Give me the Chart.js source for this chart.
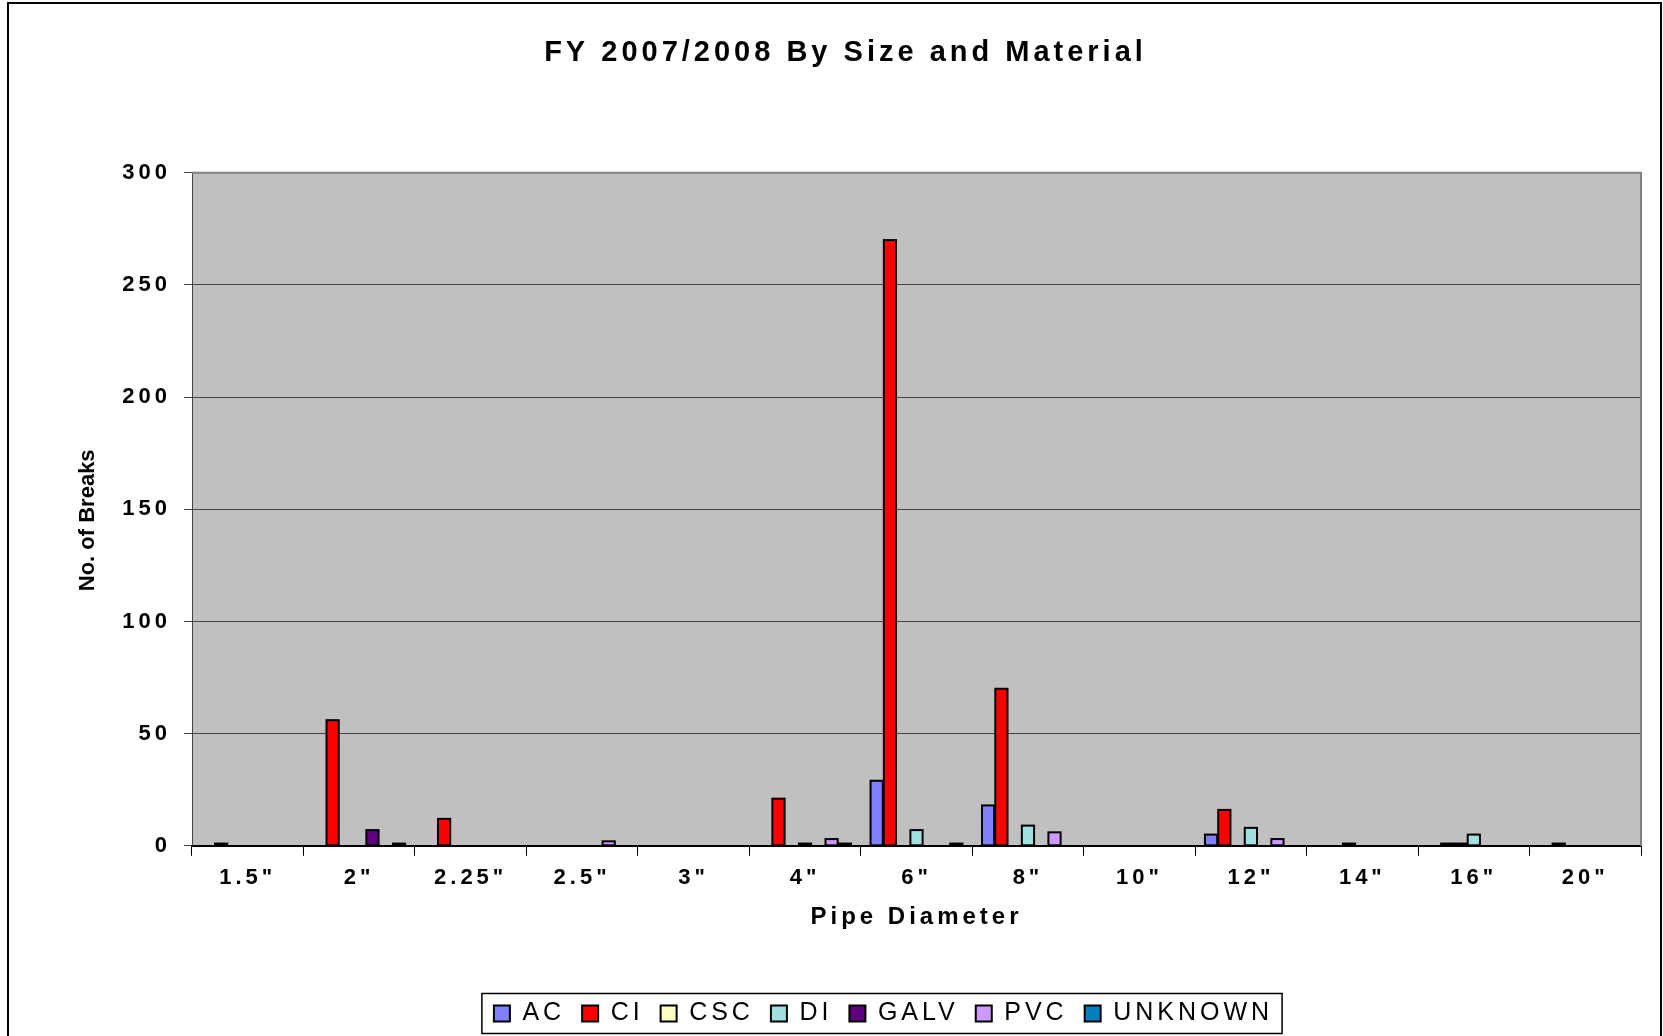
<!DOCTYPE html>
<html>
<head>
<meta charset="utf-8">
<title>FY 2007/2008 By Size and Material</title>
<script src="https://cdn.jsdelivr.net/npm/chart.js@4.4.1/dist/chart.umd.min.js"></script>
<style>
html,body{margin:0;padding:0;background:#fff;}
#wrap{position:relative;width:1663px;height:1036px;overflow:hidden;}
</style>
</head>
<body>
<div id="wrap"><canvas id="chart" width="1663" height="1036"></canvas></div>
<script>
// ------------------ DATA ------------------
const sizes = ['1.5"', '2"', '2.25"', '2.5"', '3"', '4"', '6"', '8"', '10"', '12"', '14"', '16"', '20"'];
const materials = ['AC', 'CI', 'CSC', 'DI', 'GALV', 'PVC', 'UNKNOWN'];
const acBreaks      = [0, 0, 0, 0, 0, 0, 29, 18, 0, 5, 0, 0, 0];
const ciBreaks      = [1, 56, 12, 0, 0, 21, 270, 70, 0, 16, 0, 1, 1];
const cscBreaks     = [0, 0, 0, 0, 0, 0, 0, 0, 0, 0, 1, 1, 0];
const diBreaks      = [0, 0, 0, 0, 0, 1, 7, 9, 0, 8, 0, 5, 0];
const galvBreaks    = [0, 7, 0, 0, 0, 0, 0, 0, 0, 0, 0, 0, 0];
const pvcBreaks     = [0, 0, 0, 2, 0, 3, 0, 6, 0, 3, 0, 0, 0];
const unknownBreaks = [0, 1, 0, 0, 0, 1, 1, 0, 0, 0, 0, 0, 0];
const yTicks = [0, 50, 100, 150, 200, 250, 300];

const colors = ['#8080ff', '#ff0000', '#ffffc0', '#a0e0e0', '#600080', '#cc99ff', '#0080c0'];
const series = [acBreaks, ciBreaks, cscBreaks, diBreaks, galvBreaks, pvcBreaks, unknownBreaks];

// ------------------ LAYOUT TWEAKS ------------------
const SPACING = '4px';
const legendShiftX = -33;
const yTitleShift = 11;

Chart.defaults.font.family = "'Liberation Sans', Arial, sans-serif";
Chart.defaults.color = '#000';

// wide letter spacing, grey plot, outlined bars like the old Excel export
const excelLook = {
    id: 'excelLook',
    beforeUpdate(chart){
        chart.ctx.letterSpacing = SPACING;
    },
    afterLayout(chart){
        const lg = chart.legend;
        lg.left += legendShiftX;
        lg.right += legendShiftX;
    },
    afterUpdate(chart){
        // y axis title is drawn without spacing, a little lower than centre
        const y = chart.scales.y;
        if(!y._plainTitle){
            const draw = y.drawTitle.bind(y);
            y.drawTitle = function(){
                const c = this.ctx;
                c.save();
                c.letterSpacing = '0px';
                c.translate(0, yTitleShift);
                draw();
                c.restore();
            };
            y._plainTitle = true;
        }
    },
    beforeDraw(chart){
        const c = chart.ctx;
        const a = chart.chartArea;
        c.save();
        c.fillStyle = '#fff';
        c.fillRect(0, 0, chart.width, chart.height);
        c.fillStyle = '#c0c0c0';
        c.fillRect(a.left, a.top, a.right - a.left, a.bottom - a.top);
        c.strokeStyle = '#000';
        c.lineWidth = 2;
        c.strokeRect(8, 3, 1653, 1100);
        c.restore();
        c.letterSpacing = SPACING;
    },
    afterDatasetsDraw(chart){
        // black outline centred on the bar edges
        const c = chart.ctx;
        c.save();
        c.strokeStyle = '#000';
        c.lineWidth = 2;
        chart.data.datasets.forEach((ds, i)=>{
            const meta = chart.getDatasetMeta(i);
            meta.data.forEach((bar, j)=>{
                if(!ds.data[j]) return;
                const p = bar.getProps(['x', 'y', 'base', 'width'], true);
                c.strokeRect(p.x - p.width / 2, p.y, p.width, p.base - p.y);
            });
        });
        c.restore();
    },
    afterDraw(chart){
        const c = chart.ctx;
        const a = chart.chartArea;
        c.save();
        c.strokeStyle = '#808080';
        c.lineWidth = 2;
        c.beginPath();
        c.moveTo(a.left, a.top);
        c.lineTo(a.right, a.top);
        c.lineTo(a.right, a.bottom);
        c.stroke();
        // box round the legend
        const hb = chart.legend.legendHitBoxes;
        if(hb && hb.length){
            const x0 = Math.min(...hb.map(h=>h.left)) - 12;
            const x1 = Math.max(...hb.map(h=>h.left + h.width)) + 9;
            const cy = hb[0].top + hb[0].height / 2;
            c.strokeStyle = '#000';
            c.lineWidth = 1.5;
            c.strokeRect(x0, cy - 20, x1 - x0, 40);
        }
        c.restore();
    }
};

// ------------------ CHART ------------------
const datasets = materials.map((m, i)=>({
    label: m,
    data: series[i],
    backgroundColor: colors[i],
    borderWidth: 0,
    barPercentage: 0.92,
    categoryPercentage: 0.834
}));

const chart = new Chart(document.getElementById('chart').getContext('2d'), {
    type: 'bar',
    data: { labels: sizes, datasets },
    options: {
        responsive: false,
        animation: false,
        devicePixelRatio: 1,
        layout: { padding: { left: 50, right: 22, top: 0, bottom: 0 } },
        plugins: {
            title: {
                display: true,
                text: 'FY 2007/2008 By Size and Material',
                font: { size: 29, weight: 'bold' },
                color: '#000',
                padding: { top: 36, bottom: 102 }
            },
            legend: {
                position: 'bottom',
                fullSize: false,
                labels: {
                    font: { size: 25 },
                    color: '#000',
                    boxWidth: 16,
                    boxHeight: 16,
                    padding: 17,
                    generateLabels: chart => Chart.defaults.plugins.legend.labels.generateLabels(chart)
                        .map(l => ({ ...l, strokeStyle: '#000', lineWidth: 2 }))
                }
            },
            tooltip: { enabled: false }
        },
        scales: {
            x: {
                grid: { drawOnChartArea: false, drawTicks: true, tickLength: 10, color: '#000', offset: true },
                border: { color: '#000', width: 2 },
                ticks: { font: { size: 22, weight: 'bold' }, color: '#000', padding: 9, maxRotation: 0, autoSkip: false },
                title: {
                    display: true,
                    text: 'Pipe Diameter',
                    font: { size: 24, weight: 'bold' },
                    color: '#000',
                    padding: { top: 3, bottom: 52 }
                }
            },
            y: {
                min: 0,
                max: 300,
                afterBuildTicks: s => { s.ticks = yTicks.map(v=>({value: v})); },
                afterFit: s => { s.width = 142; },
                grid: { color: '#444', lineWidth: 1, tickLength: 8, drawTicks: true },
                border: { color: '#444', width: 1 },
                ticks: { font: { size: 22, weight: 'bold' }, color: '#000', padding: 13 },
                title: {
                    display: true,
                    text: 'No. of Breaks',
                    font: { size: 22, weight: 'bold' },
                    color: '#000',
                    padding: { top: 25, bottom: 0 }
                }
            }
        }
    },
    plugins: [excelLook]
});
</script>
</body>
</html>
